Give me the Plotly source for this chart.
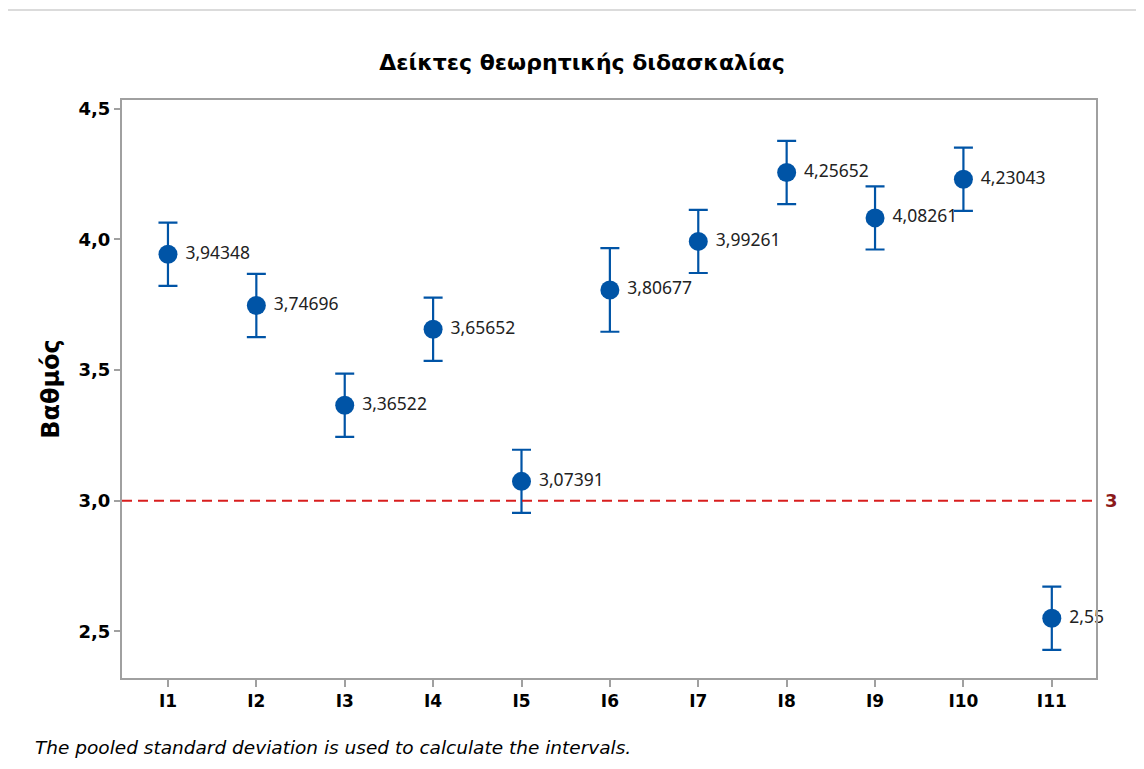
import plotly.graph_objects as go

# data
katigories = ['I1', 'I2', 'I3', 'I4', 'I5', 'I6', 'I7', 'I8', 'I9', 'I10', 'I11']
mesoi = [3.94348, 3.74696, 3.36522, 3.65652, 3.07391, 3.80677, 3.99261, 4.25652, 4.08261, 4.23043, 2.55]
diastima = [0.121, 0.121, 0.121, 0.121, 0.121, 0.160, 0.121, 0.121, 0.121, 0.121, 0.121]
etiketes = ['3,94348', '3,74696', '3,36522', '3,65652', '3,07391', '3,80677', '3,99261', '4,25652', '4,08261', '4,23043', '2,55']
y_ticks = [2.5, 3.0, 3.5, 4.0, 4.5]
y_ticktext = ['2,5', '3,0', '3,5', '4,0', '4,5']
orio = 3

BLUE = '#0054A6'
GRID = '#a0a0a0'

# the page body has an 8px margin, so the figure is sized/offset to compensate
W, H = 1136, 761
L, R, T, B = 114, 48, 92, 91
PW, PH = W - L - R, H - T - B

fig = go.Figure()
fig.add_trace(go.Scatter(
    x=katigories, y=mesoi,
    mode='markers+text',
    text=[' ' + t for t in etiketes],
    textposition='middle right',
    textfont=dict(family='Noto Sans', size=17.5, color='#222222'),
    marker=dict(color=BLUE, size=19),
    error_y=dict(type='data', array=diastima, color=BLUE, thickness=2.2, width=9.5),
    showlegend=False, cliponaxis=False,
))

# outer frame
fig.add_shape(type='rect', xref='paper', yref='paper', layer='below',
              x0=(-2 - L) / PW, x1=1.2, y0=-0.5, y1=1 + (T - 2) / PH,
              line=dict(color='#d0d0d0', width=1.5))

# reference line at 3
fig.add_hline(y=orio, line=dict(color='#D81E1E', width=2, dash='10px,6px'))
fig.add_annotation(x=1.0, xref='paper', y=orio, yref='y', text='<b>3</b>',
                   xanchor='left', xshift=7, showarrow=False,
                   font=dict(family='DejaVu Sans', size=18, color='#8B1A1A'))

# footnote
fig.add_annotation(x=(25 - L) / PW, xref='paper', y=-(739 - 670) / PH, yref='paper',
                   text='<i>The pooled standard deviation is used to calculate the intervals.</i>',
                   showarrow=False, xanchor='left', yanchor='middle',
                   font=dict(family='DejaVu Sans', size=18.5, color='black'))

fig.update_layout(
    width=W, height=H,
    paper_bgcolor='white', plot_bgcolor='white',
    margin=dict(l=L, r=R, t=T, b=B),
    title=dict(text='<b>Δείκτες θεωρητικής διδασκαλίας</b>', x=574 / W, xanchor='center',
               y=1 - 54 / H, yanchor='middle',
               font=dict(family='DejaVu Sans', size=22, color='black')),
    font=dict(family='DejaVu Sans', color='black'),
)

fig.update_xaxes(
    range=[-0.52, 10.5], showgrid=False, zeroline=False,
    showline=True, mirror=True, linecolor=GRID, linewidth=2,
    ticks='outside', ticklen=7, tickcolor=GRID, tickwidth=1.5,
    tickfont=dict(family='DejaVu Sans', size=17, color='black', weight='bold'),
)
fig.update_yaxes(
    range=[2.321, 4.534], showgrid=False, zeroline=False,
    showline=True, mirror=True, linecolor=GRID, linewidth=2,
    tickvals=y_ticks, ticktext=y_ticktext,
    ticks='outside', ticklen=6, tickcolor=GRID, tickwidth=1.5,
    tickfont=dict(family='DejaVu Sans', size=18, color='black', weight='bold'),
    title=dict(text='<b>Βαθμός</b>', font=dict(family='DejaVu Sans', size=24, color='black'), standoff=12),
)

fig.write_html("out.html")
